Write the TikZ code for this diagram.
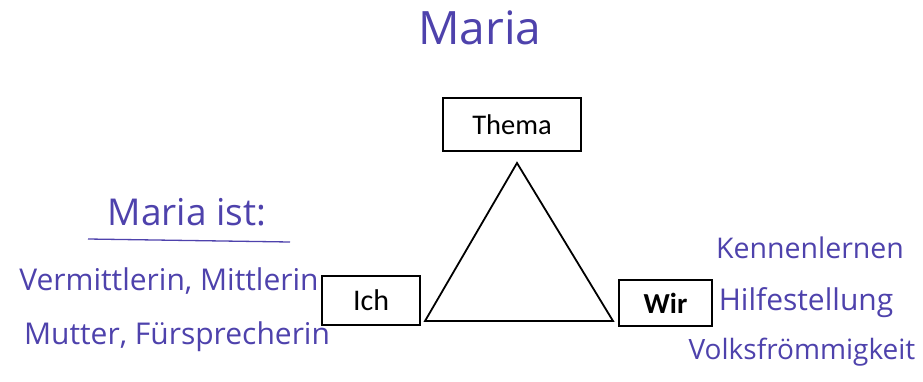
\documentclass[tikz,border=0pt]{standalone}
\usepackage{fontspec}
\setmainfont{Carlito}
\newfontfamily\handfont{Open Sans}
\definecolor{ink}{RGB}{78,66,172}
\tikzset{
  box/.style={draw,line width=1.6pt,inner sep=0pt,font=\fontsize{28.5}{30}\selectfont},
  hand/.style={text=ink,font=\handfont\fontsize{30}{32}\selectfont,inner sep=0pt}
}
\begin{document}
\begin{tikzpicture}[x=1pt,y=-1pt]
\useasboundingbox (0,0) rectangle (923,381);
% title
\node[hand,font=\handfont\fontsize{46}{50}\selectfont] (title) at (480,28) {Maria};
% the three corners
\node[box,minimum width=138pt,minimum height=53pt] (thema) at (512,124.5) {Thema};
\node[box,minimum width=98pt,minimum height=49pt,font=\fontsize{30}{32}\selectfont] (ich) at (371,300.5) {Ich};
\node[box,minimum width=93pt,minimum height=46pt,font=\bfseries\fontsize{29}{31}\selectfont] (wir) at (665.5,303) {Wir};
\draw[line width=1.8pt,line join=miter] (517,163) -- (613,321) -- (425,321) -- cycle;
% left side
\node[hand,font=\handfont\fontsize{37}{40}\selectfont] (ist) at (187,212) {Maria ist:};
\draw[ink,line width=1.3pt] (88,239) -- (290,242);
\node[hand] (lrow1) at (169,281) {Vermittlerin, Mittlerin};
\node[hand] (lrow2) at (177,337) {Mutter, Fürsprecherin};
% right side
\node[hand,font=\handfont\fontsize{28.5}{31}\selectfont] (rrow1) at (810,248) {Kennenlernen};
\node[hand] (rrow2) at (806,303) {Hilfestellung};
\node[hand,font=\handfont\fontsize{28}{31}\selectfont] (rrow3) at (802,352) {Volksfrömmigkeit};
\end{tikzpicture}
\end{document}
